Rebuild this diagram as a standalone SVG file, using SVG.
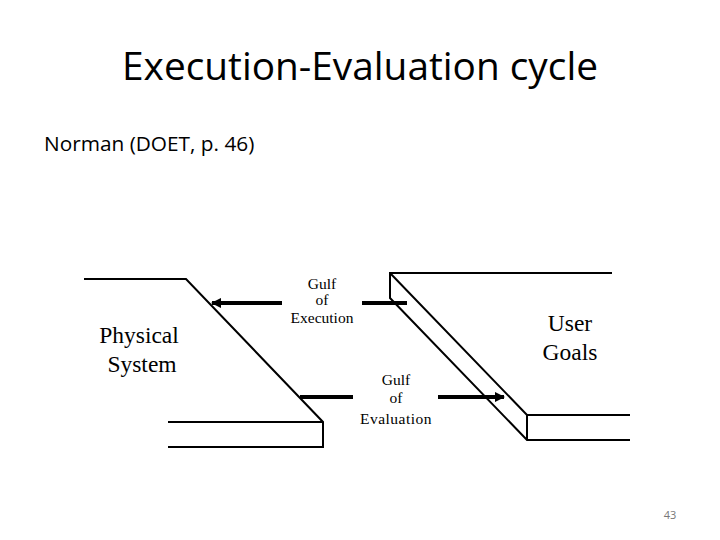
<svg xmlns="http://www.w3.org/2000/svg" width="720" height="540" viewBox="0 0 720 540">
<style>
.ln{stroke:#000;stroke-width:2;fill:none}
.th{stroke:#000;stroke-width:4;fill:none}
.t{font-family:"Liberation Serif",serif;fill:#000;text-anchor:middle}
.s{font-family:"Open Sans","Liberation Sans",sans-serif;fill:#000}
</style>
<defs>
<marker id="ah" viewBox="0 0 10 10" refX="9" refY="5" markerWidth="2.6" markerHeight="2.6" orient="auto"><path d="M0,0 L10,5 L0,10 z" fill="#000"/></marker>
</defs>
<rect width="720" height="540" fill="#fff"/>
<text class="s" x="360" y="80" font-size="38.8" text-anchor="middle">Execution-Evaluation cycle</text>
<text class="s" x="44" y="151" font-size="20.8">Norman (DOET, p. 46)</text>
<g id="physical-system">
<path class="ln" d="M84,279 H186 L323,422 V447 H168 M168,422 H323"/>
<text class="t" x="139" y="343" font-size="23.5">Physical</text>
<text class="t" x="142" y="372" font-size="23.5">System</text>
</g>
<g id="user-goals">
<path class="ln" d="M612,273 H390 V298 L527,440 H630 M390,273 L527,415 H630 M527,415 V440"/>
<text class="t" x="570" y="331" font-size="23.5">User</text>
<text class="t" x="570" y="360" font-size="23.5">Goals</text>
</g>
<g id="gulf-exec-label">
<text class="t" x="322" y="289" font-size="15.5">Gulf</text>
<text class="t" x="322" y="305" font-size="15.5">of</text>
<text class="t" x="322" y="323" font-size="15.5">Execution</text>
</g>
<g id="gulf-eval-label">
<text class="t" x="396" y="385" font-size="15.5">Gulf</text>
<text class="t" x="396" y="403" font-size="15.5">of</text>
<text class="t" x="396" y="424" font-size="15.5" letter-spacing="0.5">Evaluation</text>
</g>
<g id="connectors">
<line class="th" x1="282" y1="303" x2="212" y2="303" marker-end="url(#ah)"/>
<line class="th" x1="362" y1="303" x2="407" y2="303"/>
<line class="th" x1="300" y1="397" x2="353" y2="397"/>
<line class="th" x1="438" y1="397" x2="504" y2="397" marker-end="url(#ah)"/>
</g>
<text x="670" y="519" font-size="11" fill="#777" text-anchor="middle" font-family="'Open Sans','Liberation Sans',sans-serif">43</text>
</svg>
